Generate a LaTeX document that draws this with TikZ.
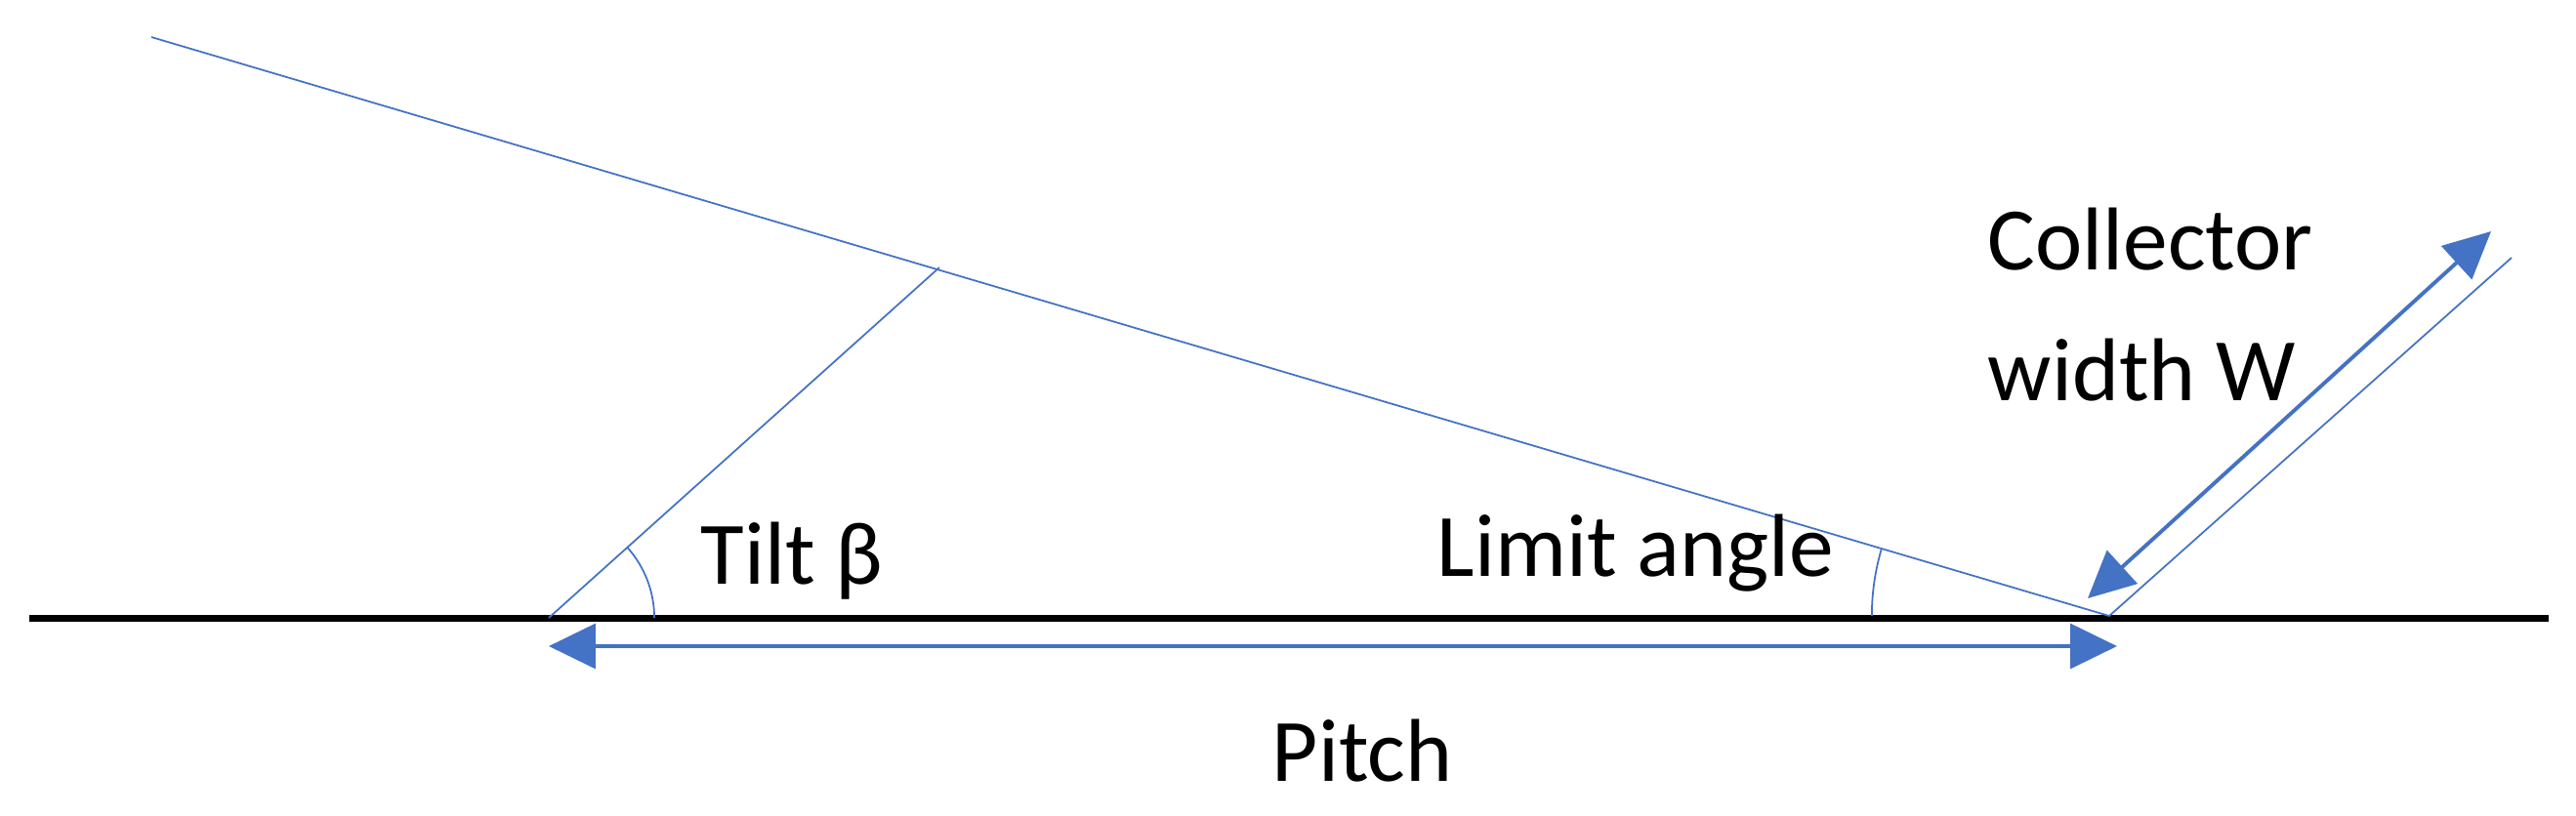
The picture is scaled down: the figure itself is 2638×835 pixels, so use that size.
\documentclass[tikz,border=0pt]{standalone}
\usepackage{fontspec}
\setmainfont{Carlito}
\usetikzlibrary{arrows.meta}
\definecolor{lineblue}{HTML}{4472C4}
\begin{document}
\begin{tikzpicture}[x=0.01cm,y=-0.01cm]
		\tikzstyle{thin line} = [lineblue, line width=0.5pt]
		\tikzstyle{dim arrow} = [lineblue, line width=1.1pt, {Triangle[length=13.6pt,width=13pt]}-{Triangle[length=13.6pt,width=13pt]}]
		\tikzstyle{Label} = [font=\fontsize{26}{32}\selectfont, align=left, inner sep=0pt]
		\useasboundingbox (0,0) rectangle (2638,835);
		
		\coordinate (gl) at (30,633);
		\coordinate (gr) at (2610,633);
		\coordinate (top) at (155,38);
		\coordinate (r0) at (2160,631);
		\coordinate (l0) at (562,633);
		\coordinate (l1) at (962,274);
		\coordinate (r1) at (2572,264);
		\coordinate (w0) at (2138,613);
		\coordinate (w1) at (2551,237);
		\coordinate (p0) at (562,662);
		\coordinate (p1) at (2168,662);
		
		\draw [black, line width=2pt] (gl) -- (gr);
		\draw [thin line] (top) -- (r0);
		\draw [thin line] (l0) -- (l1);
		\draw [thin line] (r0) -- (r1);
		\draw [dim arrow] (w0) -- (w1);
		\draw [dim arrow] (p0) -- (p1);
		
		\draw [thin line] ([xshift=1.08cm]l0) arc [start angle=0, end angle=41.9, radius=1.08cm];
		\draw [thin line] ([xshift=-2.43cm]r0) arc [start angle=180, end angle=163.5, radius=2.43cm];
		
		\node (tilt) [Label, anchor=base west] at (717,598) {Tilt β};
		\node (limit) [Label, anchor=base west] at (1471,590) {Limit angle};
		\node (width) [Label, anchor=base west] at (2035,410) {Collector\\[6pt]width W};
		\node (pitch) [Label, anchor=base] at (1395,800) {Pitch};
\end{tikzpicture}
\end{document}
